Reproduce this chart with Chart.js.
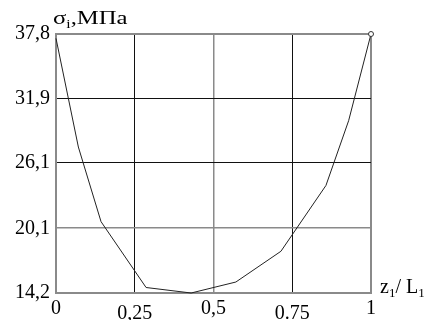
<!DOCTYPE html>
<html>
<head>
<meta charset="utf-8">
<script src="https://cdn.jsdelivr.net/npm/chart.js@4"></script>
<style>
  html, body { margin: 0; padding: 0; background: #fff; }
</style>
</head>
<body>
<canvas id="chart" width="429" height="320"></canvas>
<script>
"use strict";

// values
const zValues = [0, 0.071, 0.143, 0.286, 0.429, 0.571, 0.714, 0.857, 0.929, 1];
const stressValues = [37.4, 27.5, 20.7, 14.7, 14.2, 15.2, 18.0, 24.0, 29.9, 37.8];
const xTicks = [0, 0.25, 0.5, 0.75, 1];
const xTickLabels = ["0", "0,25", "0,5", "0.75", "1"];
const yTicks = [14.2, 20.1, 26.1, 31.9, 37.8];
const yTickLabels = ["14,2", "20,1", "26,1", "31,9", "37,8"];

const FONT = "Liberation Serif";
const EDGE = "#8a8a8a";
const GRID = "#111";

const drawParts = (ctx, parts, x, y, sx) => {
  ctx.save();
  ctx.translate(x, y);
  ctx.scale(sx, 1);
  let cx = 0;
  parts.forEach(([text, size, dy]) => {
    ctx.font = `${size}px "${FONT}"`;
    ctx.fillText(text, cx, dy);
    cx += ctx.measureText(text).width;
  });
  ctx.restore();
};

const axisTitles = {
  id: "axisTitles",
  afterDraw(chart) {
    const { ctx, chartArea } = chart;
    ctx.save();
    ctx.fillStyle = "#000";
    ctx.textBaseline = "alphabetic";
    drawParts(ctx, [["σ", 19, 0], ["i", 12, 4], [",МПа", 19, 0]], chartArea.left - 3, 24, 1.3);
    drawParts(ctx, [["z", 20, 0], ["1", 13, 4], ["/ L", 20, 0], ["1", 13, 4]], chartArea.right + 9, 293, 1);
    ctx.restore();
  },
};

const points = zValues.map((z, i) => ({ x: z, y: stressValues[i] }));

new Chart(document.getElementById("chart"), {
  type: "line",
  data: {
    datasets: [
      {
        data: points,
        borderColor: "#222",
        borderWidth: 1,
        tension: 0,
        clip: false,
        pointRadius: points.map((p, i) => (i === points.length - 1 ? 2.5 : 0)),
        pointBackgroundColor: "#fff",
        pointBorderColor: "#333",
        pointBorderWidth: 1,
      },
    ],
  },
  options: {
    responsive: false,
    devicePixelRatio: 1,
    animation: false,
    layout: { padding: { top: 34, right: 58, left: 0, bottom: 0 } },
    plugins: { legend: { display: false }, tooltip: { enabled: false } },
    scales: {
      x: {
        type: "linear",
        min: 0,
        max: 1,
        afterBuildTicks: (scale) => {
          scale.ticks = xTicks.map((v) => ({ value: v }));
        },
        afterFit: (scale) => {
          scale.height = 27;
        },
        ticks: {
          autoSkip: false,
          maxRotation: 0,
          padding: 4,
          color: "#000",
          font: (c) => ({
            family: FONT,
            size: 20,
            lineHeight: c.index === 1 || c.index === 3 ? 1.65 : 1.2,
          }),
          callback: (value, index) => xTickLabels[index],
        },
        grid: {
          drawTicks: false,
          color: (c) => (c.tick && (c.tick.value === 1 || c.tick.value === 0.5) ? EDGE : GRID),
          lineWidth: (c) => (c.tick && c.tick.value === 1 ? 2 : c.tick && c.tick.value === 0.5 ? 1.5 : 1),
        },
        border: { color: EDGE, width: 2 },
      },
      y: {
        type: "linear",
        min: 14.2,
        max: 37.8,
        afterBuildTicks: (scale) => {
          scale.ticks = yTicks.map((v) => ({ value: v }));
        },
        afterFit: (scale) => {
          scale.width = 56;
        },
        ticks: {
          padding: 6,
          color: "#000",
          font: { family: FONT, size: 20 },
          callback: (value, index) => yTickLabels[index],
        },
        grid: {
          drawTicks: false,
          color: (c) => (c.tick && (c.tick.value === 37.8 || c.tick.value === 20.1) ? EDGE : GRID),
          lineWidth: (c) => (c.tick && c.tick.value === 37.8 ? 2 : c.tick && c.tick.value === 20.1 ? 1.5 : 1),
        },
        border: { color: EDGE, width: 2 },
      },
    },
  },
  plugins: [axisTitles],
});
</script>
</body>
</html>
